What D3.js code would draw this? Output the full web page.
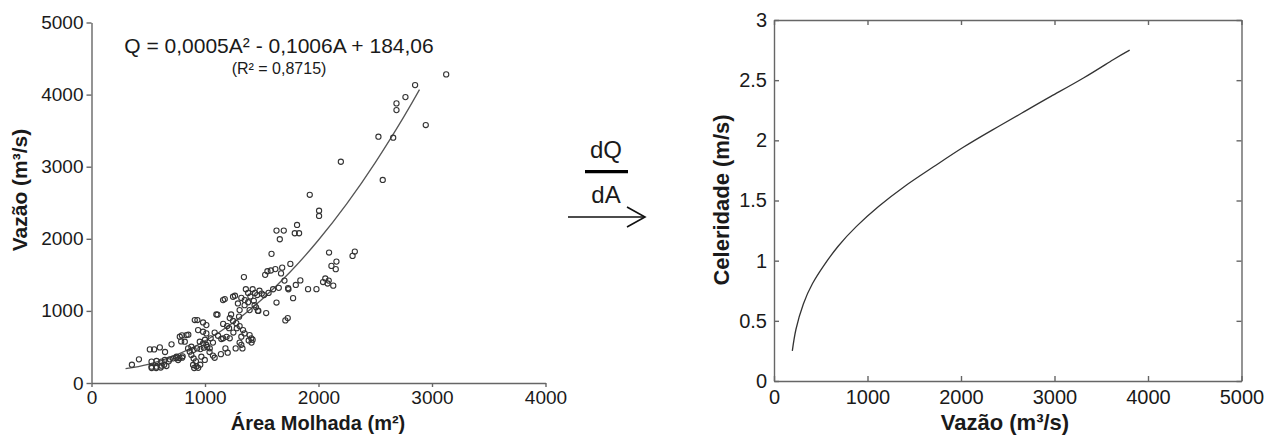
<!DOCTYPE html>
<html>
<head>
<meta charset="utf-8">
<script src="https://cdn.jsdelivr.net/npm/d3@7/dist/d3.min.js"></script>
<style>
  html, body { margin: 0; padding: 0; background: #fff; }
  svg text { font-family: "Liberation Sans", Arial, sans-serif; fill: #1a1a1a; }
  .axis path, .axis line { stroke: #666; stroke-width: 1.4; }
  .axis text { font-size: 19px; fill: #1a1a1a; }
  .axisR text { font-size: 20px; }
  .title { font-weight: bold; }
</style>
</head>
<body>
<svg id="chart" width="1273" height="436"></svg>
<script>
// left: area vs discharge scatter (A in m², Q in m³/s)
const areaVals = [
  356, 418, 514, 552, 602, 648, 705, 529, 573, 617, 646, 690, 720, 749, 529, 573, 617, 660,
  530, 570, 610, 640, 680, 745, 775, 803, 763, 798,
  778, 837, 822, 790, 797, 853, 851, 880, 866, 880, 900, 920, 895, 905, 925, 958, 940, 910,
  933, 983, 1012, 939, 983, 1012, 954, 983, 1012, 1042, 968, 998, 900, 930, 960, 990, 1020,
  1040, 1000, 1050, 1070,
  1085, 1115, 1144, 1100, 1110, 1159, 1174, 1247, 1264, 1160, 1195, 1212, 1218, 1247, 1276,
  1305, 1160, 1190, 1218, 1180, 1200, 1140, 1070, 1085, 1305, 1349, 1393, 1437, 1466, 1335,
  1349, 1320, 1305, 1320, 1393, 1408, 1385, 1410, 1420, 1330, 1270, 1290, 1343, 1360, 1380,
  1400, 1420, 1440, 1460, 1480, 1500, 1350, 1320, 1380, 1430, 1250, 1280, 1230, 1300, 1450, 1470,
  1530, 1550, 1580, 1620, 1670, 1680, 1539, 1586, 1630, 1694, 1811, 1791, 1829, 1659, 1752,
  1630, 1732, 1776, 1708, 1729, 1800, 1840, 1908, 1982, 2093, 2320, 2300, 2158, 2114, 2152,
  2040, 2060, 2080, 2090, 2130, 1923, 2005, 2005, 1600, 1650, 1700, 1560, 1520, 1735,
  2197, 2566, 2528, 2658, 2687, 2687, 2766, 2851, 2945, 3125
];
const flowVals = [
  254, 328, 466, 466, 494, 430, 536, 296, 305, 296, 319, 328, 342, 365, 226, 226, 240, 235,
  208, 208, 215, 252, 300, 346, 346, 370, 319, 351,
  642, 665, 573, 577, 660, 670, 480, 503, 434, 388, 340, 300, 250, 208, 230, 254, 210, 873,
  873, 840, 803, 734, 711, 688, 573, 550, 527, 481, 365, 320, 460, 480, 470, 490, 500,
  430, 600, 620, 560,
  700, 655, 610, 951, 947, 1150, 1164, 1196, 1210, 820, 790, 760, 900, 860, 830,
  790, 620, 640, 620, 480, 420, 400, 380, 350, 1011, 1080, 1011, 1080, 1003, 734,
  688, 642, 560, 530, 665, 620, 590, 560, 600, 480, 480, 1103, 1469, 1300, 1250,
  1200, 1300, 1250, 1220, 1280, 1240, 1150, 1180, 1120, 1140, 700, 760, 950, 920, 1050, 1000,
  1500, 1550, 1560, 1580, 1520, 1600, 970, 1791, 2114, 2114, 2192, 2077, 2077, 1994, 1652,
  1116, 1316, 1177, 868, 900, 1360, 1423, 1302, 1302, 1809, 1823, 1763, 1684, 1624, 1579,
  1400, 1450, 1380, 1420, 1350, 2610, 2390, 2317, 1300, 1320, 1420, 1250, 1220, 1300,
  3069, 2816, 3416, 3402, 3785, 3878, 3965, 4132, 3578, 4280
];

// fitted curve
const fitArea = [300, 500, 750, 1000, 1250, 1500, 1750, 2000, 2250, 2500, 2750, 2890];
const fitFlow = [199, 259, 390, 583, 839, 1158, 1539, 1983, 2489, 3057, 3688, 4069];

// right: celerity vs discharge
const celQ = [196, 235, 314, 412, 529, 686, 882, 1118, 1392, 1706, 2020, 2333, 2647, 2961, 3314, 3627, 3804];
const celC = [0.25, 0.43, 0.64, 0.81, 0.955, 1.12, 1.285, 1.45, 1.615, 1.78, 1.94, 2.085, 2.225, 2.365, 2.52, 2.67, 2.75];

const leftXTicks = [0, 1000, 2000, 3000, 4000];
const leftYTicks = [0, 1000, 2000, 3000, 4000, 5000];
const rightXTicks = [0, 1000, 2000, 3000, 4000, 5000];
const rightYTicks = [0, 0.5, 1, 1.5, 2, 2.5, 3];

const svg = d3.select('#chart');

// ---- left chart
const xL = d3.scaleLinear().domain([0, 4000]).range([91.5, 545.5]);
const yL = d3.scaleLinear().domain([0, 5000]).range([383, 22.5]);

svg.append('g')
    .attr('class', 'axis')
    .attr('transform', `translate(0,${yL(0)})`)
    .call(d3.axisBottom(xL).tickValues(leftXTicks).tickFormat(d3.format('d')).tickSize(4).tickSizeOuter(0).tickPadding(4));

svg.append('g')
    .attr('class', 'axis')
    .attr('transform', `translate(${xL(0)},0)`)
    .call(d3.axisLeft(yL).tickValues(leftYTicks).tickFormat(d3.format('d')).tickSize(5).tickSizeOuter(0).tickPadding(3));

const fitLine = d3.line()
    .x((d, i) => xL(fitArea[i]))
    .y((d, i) => yL(fitFlow[i]))
    .curve(d3.curveNatural);

svg.append('path')
    .datum(fitArea)
    .attr('d', fitLine)
    .attr('fill', 'none')
    .attr('stroke', '#555')
    .attr('stroke-width', 1.3);

svg.append('g')
    .selectAll('circle')
    .data(areaVals)
    .enter()
    .append('circle')
    .attr('cx', (d) => xL(d))
    .attr('cy', (d, i) => yL(flowVals[i]))
    .attr('r', 2.6)
    .attr('fill', 'none')
    .attr('stroke', '#333')
    .attr('stroke-width', 1.1);

svg.append('text')
    .attr('x', 279).attr('y', 52.5)
    .attr('text-anchor', 'middle')
    .style('font-size', '21px')
    .text('Q = 0,0005A² - 0,1006A + 184,06');

svg.append('text')
    .attr('x', 279).attr('y', 74)
    .attr('text-anchor', 'middle')
    .style('font-size', '16px')
    .text('(R² = 0,8715)');

svg.append('text')
    .attr('class', 'title')
    .attr('x', 318).attr('y', 430)
    .attr('text-anchor', 'middle')
    .style('font-size', '20px')
    .text('Área Molhada (m²)');

svg.append('text')
    .attr('class', 'title')
    .attr('transform', 'translate(27,190) rotate(-90)')
    .attr('text-anchor', 'middle')
    .style('font-size', '21px')
    .text('Vazão (m³/s)');

// ---- middle derivative sign
svg.append('text')
    .attr('x', 606).attr('y', 158)
    .attr('text-anchor', 'middle')
    .style('font-size', '24px')
    .text('dQ');

svg.append('line')
    .attr('x1', 585).attr('x2', 628)
    .attr('y1', 171.7).attr('y2', 171.7)
    .attr('stroke', '#000')
    .attr('stroke-width', 3.3);

svg.append('text')
    .attr('x', 606).attr('y', 203)
    .attr('text-anchor', 'middle')
    .style('font-size', '24px')
    .text('dA');

svg.append('line')
    .attr('x1', 568).attr('x2', 645)
    .attr('y1', 217).attr('y2', 217)
    .attr('stroke', '#111')
    .attr('stroke-width', 1.6);

svg.append('path')
    .attr('d', 'M627,207 L645,217 L627,227')
    .attr('fill', 'none')
    .attr('stroke', '#111')
    .attr('stroke-width', 1.6);

// ---- right chart
const xR = d3.scaleLinear().domain([0, 5000]).range([774, 1241.5]);
const yR = d3.scaleLinear().domain([0, 3]).range([381, 20]);

svg.append('g')
    .attr('class', 'axis axisR')
    .attr('transform', `translate(0,${yR(0)})`)
    .call(d3.axisBottom(xR).tickValues(rightXTicks).tickFormat(d3.format('d')).tickSize(-5).tickSizeOuter(0).tickPadding(9));

svg.append('g')
    .attr('class', 'axis axisR')
    .attr('transform', `translate(0,${yR(3)})`)
    .call(d3.axisTop(xR).tickValues(rightXTicks).tickFormat('').tickSize(-5).tickSizeOuter(0));

svg.append('g')
    .attr('class', 'axis axisR')
    .attr('transform', `translate(${xR(0)},0)`)
    .call(d3.axisLeft(yR).tickValues(rightYTicks).tickFormat(d3.format('')).tickSize(-5).tickSizeOuter(0).tickPadding(7));

svg.append('g')
    .attr('class', 'axis axisR')
    .attr('transform', `translate(${xR(5000)},0)`)
    .call(d3.axisRight(yR).tickValues(rightYTicks).tickFormat('').tickSize(-5).tickSizeOuter(0));

const celLine = d3.line()
    .x((d, i) => xR(celQ[i]))
    .y((d, i) => yR(celC[i]))
    .curve(d3.curveNatural);

svg.append('path')
    .datum(celQ)
    .attr('d', celLine)
    .attr('fill', 'none')
    .attr('stroke', '#333')
    .attr('stroke-width', 1.3);

svg.append('text')
    .attr('class', 'title')
    .attr('x', 1005).attr('y', 430)
    .attr('text-anchor', 'middle')
    .style('font-size', '22px')
    .text('Vazão (m³/s)');

svg.append('text')
    .attr('class', 'title')
    .attr('transform', 'translate(729,200) rotate(-90)')
    .attr('text-anchor', 'middle')
    .style('font-size', '22px')
    .text('Celeridade (m/s)');
</script>
</body>
</html>
